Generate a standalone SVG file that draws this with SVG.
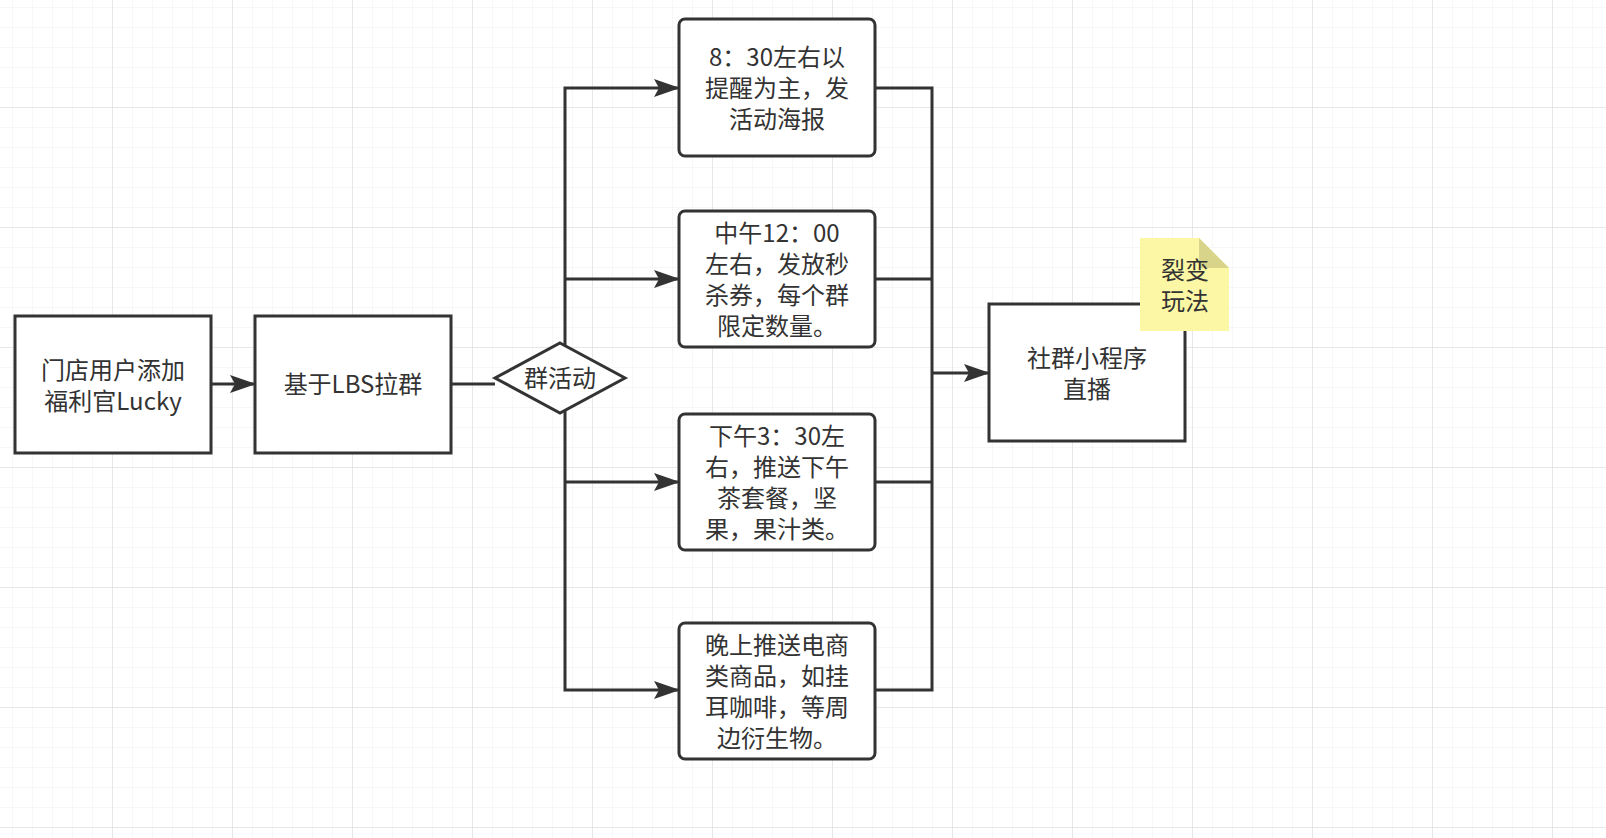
<svg xmlns="http://www.w3.org/2000/svg" width="1606" height="838" viewBox="0 0 1606 838">
<defs>
<pattern id="g" width="20" height="20" patternUnits="userSpaceOnUse" x="13" y="8"><path d="M20 0V20M0 20H20" fill="none" stroke="#efefef" stroke-width="1"/></pattern>
<pattern id="G" width="120" height="120" patternUnits="userSpaceOnUse" x="-7" y="-12"><path d="M120 0V120M0 120H120" fill="none" stroke="#e2e2e2" stroke-width="1.5"/></pattern>
<marker id="a" markerWidth="10" markerHeight="10" refX="9" refY="5" orient="auto" markerUnits="userSpaceOnUse" viewBox="0 0 10 10"><path d="M0 0L10 5L0 10L2 5Z" fill="#333"/></marker>
<marker id="A" markerWidth="26" markerHeight="18" refX="25" refY="9" orient="auto" markerUnits="userSpaceOnUse"><path d="M0 0L26 9L0 18L5 9Z" fill="#333"/></marker>
</defs>
<style>
.n{fill:#fff;stroke:#333;stroke-width:3}
text{font-family:"Noto Sans CJK SC","Liberation Sans",sans-serif;font-size:24px;fill:#333;text-anchor:middle}
.c{fill:none;stroke:#333;stroke-width:3}
</style>
<rect width="1606" height="838" fill="#fff"/>
<rect width="1606" height="838" fill="url(#g)"/>
<rect width="1606" height="838" fill="url(#G)"/>
<g id="connectors">
<path class="c" d="M211 384H255" marker-end="url(#A)"/>
<path class="c" d="M451 384H495"/>
<path class="c" d="M565 345V88H679" marker-end="url(#A)"/>
<path class="c" d="M565 410V690H679" marker-end="url(#A)"/>
<path class="c" d="M565 279H679" marker-end="url(#A)"/>
<path class="c" d="M565 482H679" marker-end="url(#A)"/>
<path class="c" d="M875 88H932V690H875M875 279H932M875 482H932"/>
<path class="c" d="M932 373H989" marker-end="url(#A)"/>
</g>
<g id="n1"><rect class="n" x="15" y="316" width="196" height="137"/><text x="113" y="379">门店用户添加</text><text x="113" y="410">福利官Lucky</text></g>
<g id="n2"><rect class="n" x="255" y="316" width="196" height="137"/><text x="353" y="393">基于LBS拉群</text></g>
<g id="n3"><path class="n" d="M560 343L625 378L560 413L495 378Z"/><text x="560" y="387">群活动</text></g>
<g id="n4"><rect class="n" x="679" y="19" width="196" height="137" rx="6"/><text x="777" y="66">8：30左右以</text><text x="777" y="97">提醒为主，发</text><text x="777" y="128">活动海报</text></g>
<g id="n5"><rect class="n" x="679" y="211" width="196" height="136" rx="6"/><text x="777" y="242">中午12：00</text><text x="777" y="273">左右，发放秒</text><text x="777" y="304">杀券，每个群</text><text x="777" y="335">限定数量。</text></g>
<g id="n6"><rect class="n" x="679" y="414" width="196" height="136" rx="6"/><text x="777" y="445">下午3：30左</text><text x="777" y="476">右，推送下午</text><text x="777" y="507">茶套餐，坚</text><text x="777" y="538">果，果汁类。</text></g>
<g id="n7"><rect class="n" x="679" y="623" width="196" height="136" rx="6"/><text x="777" y="654">晚上推送电商</text><text x="777" y="685">类商品，如挂</text><text x="777" y="716">耳咖啡，等周</text><text x="777" y="747">边衍生物。</text></g>
<g id="n8"><rect class="n" x="989" y="304" width="196" height="137"/><text x="1087" y="367">社群小程序</text><text x="1087" y="398">直播</text></g>
<g id="note"><path d="M1140 238H1199L1229 268V331H1140Z" fill="#fcf7a4"/><path d="M1199 238V268H1229Z" fill="#d8d48a"/><text x="1185" y="279">裂变</text><text x="1185" y="310">玩法</text></g>
</svg>
